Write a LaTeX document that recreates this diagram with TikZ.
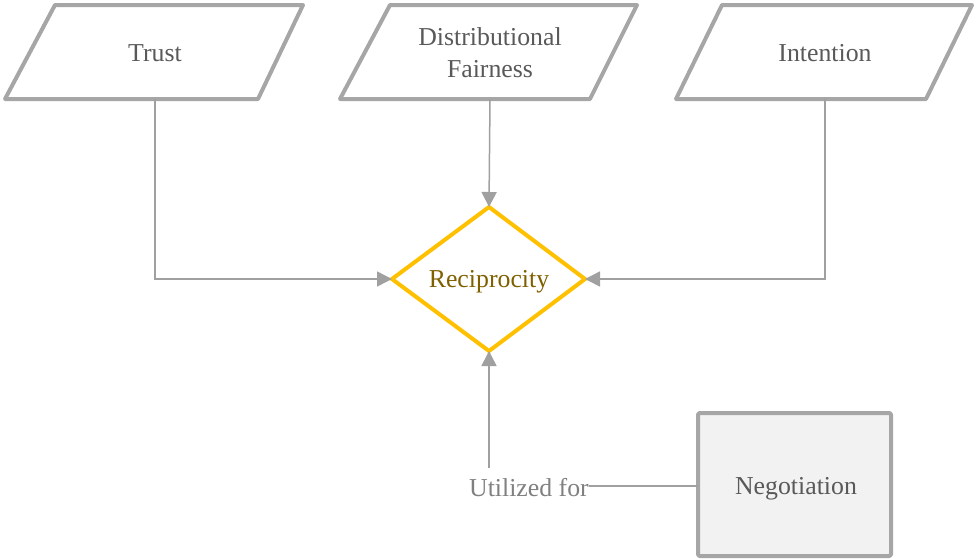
\documentclass[tikz,border=0pt]{standalone}
\usepackage{fontspec}
\setmainfont{Liberation Serif}
\usetikzlibrary{arrows.meta}
\definecolor{edgegray}{HTML}{A6A6A6}
\definecolor{linegray}{HTML}{A0A0A0}
\definecolor{txtgray}{HTML}{595959}
\definecolor{lbgray}{HTML}{808080}
\definecolor{gold}{HTML}{FFC000}
\definecolor{darkgold}{HTML}{7F6000}
\definecolor{boxfill}{HTML}{F2F2F2}
\tikzset{
  shapeline/.style={draw=edgegray, line width=4pt, line join=round},
  lbl/.style={font=\fontsize{25.8}{32}\selectfont, text=txtgray, align=center, inner sep=0pt},
  conn/.style={draw=linegray, line width=1.5pt},
  arr/.style={conn, -{Triangle[length=15pt,width=15pt]}},
}
\begin{document}
\begin{tikzpicture}[x=1pt,y=-1pt]
\useasboundingbox (0,0) rectangle (975,558);
% parallelograms
\draw[shapeline] (55,5) -- (303,5) -- (258,99) -- (5,99) -- cycle;
\draw[shapeline] (390,5) -- (637,5) -- (590,99) -- (340,99) -- cycle;
\draw[shapeline] (722,5) -- (972,5) -- (926,99) -- (676,99) -- cycle;
\node[lbl] (trust) at (155,53) {Trust};
\node[lbl] (fair) at (490,53) {Distributional\\Fairness};
\node[lbl] (intent) at (825,53) {Intention};
\coordinate (trustB) at (155,99);
\coordinate (fairB) at (490,99);
\coordinate (intentB) at (825,99);
% diamond
\coordinate (dT) at (489,207);
\coordinate (dB) at (489,351);
\coordinate (dL) at (392,279);
\coordinate (dR) at (585,279);
\draw[draw=gold, line width=4pt, line join=miter] (dT) -- (dR) -- (dB) -- (dL) -- cycle;
\node[lbl, text=darkgold] (recip) at (489,282) {Reciprocity};
% negotiation box
\draw[shapeline, fill=boxfill, rounded corners=1.5pt] (698,413) rectangle (891,556);
\node[lbl] (nego) at (796,489) {Negotiation};
\coordinate (negoL) at (698,486);
% label
\node[lbl, text=lbgray, anchor=east] (util) at (589,488) {Utilized for};
\coordinate (utilT) at (489,468);
% connectors
\draw[arr] (trustB) |- (dL);
\draw[arr] (intentB) |- (dR);
\draw[arr] (fairB) -- (dT);
\draw[arr] (utilT) -- (dB);
\draw[conn] (negoL) -- (util.east |- negoL);
\end{tikzpicture}
\end{document}
